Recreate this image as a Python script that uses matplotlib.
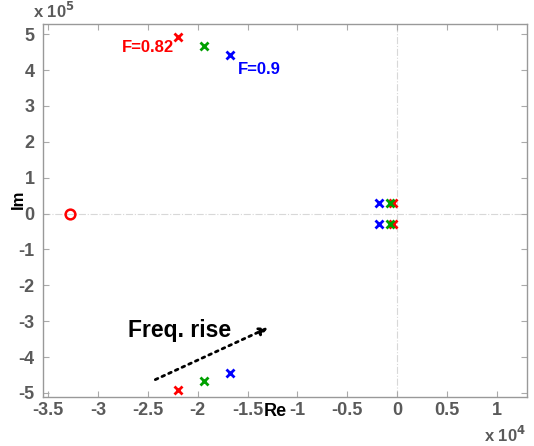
import matplotlib
matplotlib.use('Agg')
import matplotlib.pyplot as plt
from matplotlib.ticker import FuncFormatter

plt.rcParams['font.family'] = ['Liberation Sans', 'DejaVu Sans']
plt.rcParams['font.weight'] = 'bold'

# poles (re, im) for each F value
f082_re = [-2.2e4, -2.2e4, -0.04e4, -0.04e4]
f082_im = [4.92e5, -4.92e5, 0.29e5, -0.29e5]
fmid_re = [-1.94e4, -1.94e4, -0.07e4, -0.07e4]
fmid_im = [4.66e5, -4.66e5, 0.29e5, -0.29e5]
f09_re = [-1.68e4, -1.68e4, -0.18e4, -0.18e4]
f09_im = [4.43e5, -4.43e5, 0.29e5, -0.29e5]
zero_re = [-3.28e4]
zero_im = [0.0]

xticks = [-3.5e4, -3e4, -2.5e4, -2e4, -1.5e4, -1e4, -0.5e4, 0, 0.5e4, 1e4]
yticks = [-5e5, -4e5, -3e5, -2e5, -1e5, 0, 1e5, 2e5, 3e5, 4e5, 5e5]

fig = plt.figure(figsize=(5.34, 4.46), dpi=100)
ax = fig.add_axes([0.0805, 0.11, 0.9065, 0.836])

gray = '#5a5a5a'
ax.axhline(0, color='#d8d8d8', lw=0.8, ls='-.', zorder=0)
ax.axvline(0, color='#d8d8d8', lw=0.8, ls='-.', zorder=0)

ax.plot(f082_re, f082_im, 'x', color='red', ms=6, mew=2)
ax.plot(fmid_re, fmid_im, 'x', color='#00a000', ms=6, mew=2)
ax.plot(f09_re, f09_im, 'x', color='blue', ms=6, mew=2)
ax.plot(zero_re, zero_im, 'o', mfc='none', mec='red', ms=7, mew=1.8)

ax.text(-2.76e4, 4.5e5, 'F=0.82', color='red', fontsize=12, fontweight='bold')
ax.text(-1.6e4, 3.9e5, 'F=0.9', color='blue', fontsize=12, fontweight='bold')
ax.text(-2.7e4, -3.45e5, 'Freq. rise', color='black', fontsize=16.5, fontweight='bold')
ax.annotate('', xy=(-1.27e4, -3.15e5), xytext=(-2.45e4, -4.66e5),
            arrowprops=dict(arrowstyle='-|>', color='black', lw=2, ls=':',
                            mutation_scale=12))

ax.set_xlim(-3.55e4, 1.3e4)
ax.set_ylim(-5.11e5, 5.28e5)
ax.set_xticks(xticks)
ax.set_yticks(yticks)
ax.xaxis.set_major_formatter(FuncFormatter(lambda v, p: '%g' % (v / 1e4)))
ax.yaxis.set_major_formatter(FuncFormatter(lambda v, p: '%g' % (v / 1e5)))
ax.tick_params(direction='in', length=4, color='#aaaaaa', labelcolor=gray,
               labelsize=13, top=True, right=True)
ax.tick_params(axis='y', pad=6)
for sp in ax.spines.values():
    sp.set_color('#999999')
    sp.set_linewidth(1)

fig.text(0.034, 0.552, 'Im', fontsize=12, fontweight='bold', rotation=90,
         ha='center', va='center')
fig.text(0.515, 0.078, 'Re', fontsize=13, fontweight='bold', ha='center', va='center')
fig.text(0.062, 0.975, r'x 10$^{5}$', color=gray, fontsize=12, fontweight='bold', va='center')
fig.text(0.985, 0.025, r'x 10$^{4}$', color=gray, fontsize=12, fontweight='bold',
         ha='right', va='center')

fig.savefig('out.png', dpi=100)
